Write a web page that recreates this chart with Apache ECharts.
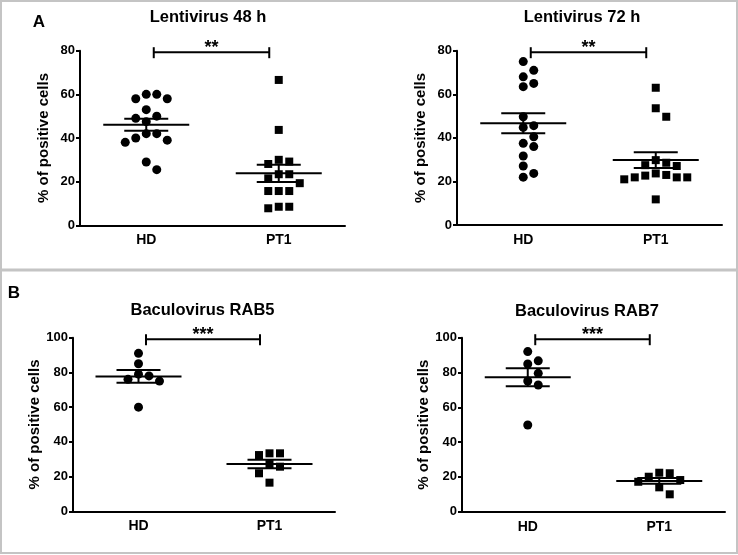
<!DOCTYPE html>
<html>
<head>
<meta charset="utf-8">
<script src="https://cdn.jsdelivr.net/npm/echarts@6/dist/echarts.min.js"></script>
<style>html,body{margin:0;padding:0;background:#fff;}#c{width:738px;height:555px;}</style>
</head>
<body>
<div id="c"></div>
<script>
// ---------------- data ----------------
const categories = ['HD', 'PT1'];
const titles = ['Lentivirus 48 h', 'Lentivirus 72 h', 'Baculovirus RAB5', 'Baculovirus RAB7'];
const yAxisName = '% of positive cells';
const yMaxA = 80, yMaxB = 100, yInterval = 20;
const sigLabels = ['**', '**', '***', '***'];
const panelLetters = ['A', 'B'];

const lenti48HD  = [60, 60, 58, 58, 53, 50, 49, 47.5, 42, 42, 40, 39, 38, 29, 25.5];
const lenti48PT1 = [66.6, 43.7, 30, 29.2, 28.1, 23.4, 23.4, 21.5, 19.3, 15.7, 15.7, 15.7, 8.5, 8.5, 7.8];
const lenti72HD  = [75, 71, 68, 65, 63.5, 49.7, 45.6, 44.8, 40.5, 37.5, 36, 31.7, 27.1, 23.7, 22];
const lenti72PT1 = [63, 53.6, 49.7, 29.8, 28.6, 27.5, 27.1, 23.7, 23, 22.7, 21.9, 21.9, 21.9, 21, 11.8];
const rab5HD  = [91, 85, 79, 78, 76, 75, 60];
const rab5PT1 = [33.4, 33.4, 32.4, 27.2, 25.7, 21.9, 16.5];
const rab7HD  = [92, 86.7, 84.9, 79.5, 75.1, 72.8, 49.8];
const rab7PT1 = [22.4, 22.1, 20.1, 18.2, 17.2, 14, 10];

// ---------------- layout ----------------
const FONT = '"Liberation Sans", Arial, sans-serif';
const panels = [
  { hd: lenti48HD, pt: lenti48PT1, max: yMaxA, grid: { left: 80, top: 50.7, width: 265, height: 174.6 }, title: [208, 17] },
  { hd: lenti72HD, pt: lenti72PT1, max: yMaxA, grid: { left: 457, top: 50.7, width: 265, height: 174.4 }, title: [582, 17] },
  { hd: rab5HD, pt: rab5PT1, max: yMaxB, grid: { left: 73, top: 337.7, width: 262, height: 173.6 }, title: [202.5, 310] },
  { hd: rab7HD, pt: rab7PT1, max: yMaxB, grid: { left: 462, top: 337.7, width: 263, height: 174 }, title: [587, 311.5] }
];

function mean(a) { return a.reduce((s, v) => s + v, 0) / a.length; }
function sem(a) {
  const m = mean(a);
  const v = a.reduce((s, x) => s + (x - m) * (x - m), 0) / (a.length - 1);
  return Math.sqrt(v) / Math.sqrt(a.length);
}
// beeswarm layout: pixel x offsets computed from values so dots don't overlap
function swarm(values, pxPerUnit, step, minDist) {
  const order = values.map((v, i) => i).sort((a, b) => values[b] - values[a]);
  const placed = [];
  const offs = new Array(values.length).fill(0);
  order.forEach(i => {
    const y = values[i] * pxPerUnit;
    for (let n = 0; n < 40; n++) {
      const k = n === 0 ? 0 : (n % 2 === 1 ? (n + 1) / 2 : -n / 2);
      const x = k * step;
      const ok = placed.every(p => (p[0] - x) ** 2 + (p[1] - y) ** 2 >= minDist * minDist);
      if (ok) { placed.push([x, y]); offs[i] = x; break; }
    }
  });
  return offs;
}

const chart = echarts.init(document.getElementById('c'), null, { renderer: 'canvas' });

const grids = [], xAxes = [], yAxes = [], series = [], graphics = [];
panels.forEach((p, gi) => {
  grids.push(Object.assign({ containLabel: false }, p.grid));
  xAxes.push({
    gridIndex: gi, type: 'category', data: categories, boundaryGap: true,
    axisLine: { lineStyle: { color: '#000', width: 2 } },
    axisTick: { alignWithLabel: true, length: 4, lineStyle: { color: '#000', width: 2 } },
    axisLabel: { color: '#000', fontWeight: 'bold', fontSize: 14, margin: 8, fontFamily: FONT },
    splitLine: { show: false }
  });
  yAxes.push({
    gridIndex: gi, type: 'value', min: 0, max: p.max, interval: yInterval,
    axisLine: { show: true, lineStyle: { color: '#000', width: 2 } },
    axisTick: { show: true, length: 4, lineStyle: { color: '#000', width: 2 } },
    axisLabel: { color: '#000', fontWeight: 'bold', fontSize: 13, margin: 5, fontFamily: FONT },
    splitLine: { show: false },
    name: yAxisName, nameLocation: 'middle', nameGap: 29,
    nameTextStyle: { color: '#000', fontWeight: 'bold', fontSize: 15, fontFamily: FONT }
  });
  const ppu = p.grid.height / p.max;
  [[p.hd, 0, 'circle', 9], [p.pt, 1, 'rect', 8]].forEach(([vals, ci, sym, size]) => {
    const offs = swarm(vals, ppu, 10.5, 9.6);
    series.push({
      type: 'scatter', xAxisIndex: gi, yAxisIndex: gi, symbol: sym, symbolSize: size,
      itemStyle: { color: '#000', opacity: 1 }, z: 3,
      emphasis: { disabled: true },
      data: vals.map((v, i) => ({ value: [ci, v], symbolOffset: [offs[i], 0] }))
    });
  });
  // mean +/- SEM
  series.push({
    type: 'custom', xAxisIndex: gi, yAxisIndex: gi, z: 4,
    data: [[0, mean(p.hd), sem(p.hd)], [1, mean(p.pt), sem(p.pt)]],
    renderItem: function (params, api) {
      const c = api.value(0), m = api.value(1), s = api.value(2);
      const pm = api.coord([c, m]), pu = api.coord([c, m + s]), pl = api.coord([c, m - s]);
      const st = { stroke: '#000', lineWidth: 2 };
      return { type: 'group', children: [
        { type: 'line', shape: { x1: pm[0] - 43, y1: pm[1], x2: pm[0] + 43, y2: pm[1] }, style: st },
        { type: 'line', shape: { x1: pu[0] - 22, y1: pu[1], x2: pu[0] + 22, y2: pu[1] }, style: st },
        { type: 'line', shape: { x1: pl[0] - 22, y1: pl[1], x2: pl[0] + 22, y2: pl[1] }, style: st },
        { type: 'line', shape: { x1: pu[0], y1: pu[1], x2: pl[0], y2: pl[1] }, style: st }
      ]};
    }
  });
  // significance bracket
  series.push({
    type: 'custom', xAxisIndex: gi, yAxisIndex: gi, z: 4,
    data: [[0, 1, p.max]],
    renderItem: function (params, api) {
      const a = api.coord([api.value(0), api.value(2)]);
      const b = api.coord([api.value(1), api.value(2)]);
      const x1 = a[0] + 7.5, x2 = b[0] - 9.5, y = a[1] + 1.5;
      const st = { stroke: '#000', lineWidth: 2 };
      return { type: 'group', children: [
        { type: 'line', shape: { x1: x1, y1: y, x2: x2, y2: y }, style: st },
        { type: 'line', shape: { x1: x1, y1: y - 5, x2: x1, y2: y + 6 }, style: st },
        { type: 'line', shape: { x1: x2, y1: y - 5, x2: x2, y2: y + 6 }, style: st },
        { type: 'text', style: { x: (x1 + x2) / 2, y: y - 4, text: sigLabels[gi], align: 'center', verticalAlign: 'middle',
          font: 'bold 18px ' + FONT, fill: '#000' } }
      ]};
    }
  });
  graphics.push({
    type: 'text', x: p.title[0], y: p.title[1],
    style: { text: titles[gi], align: 'center', verticalAlign: 'middle', font: 'bold 16.5px ' + FONT, fill: '#000' }
  });
});

graphics.push(
  { type: 'rect', shape: { x: 1, y: 1, width: 736, height: 552 }, style: { fill: 'none', stroke: '#c4c4c4', lineWidth: 2 }, z: -1 },
  { type: 'line', shape: { x1: 1, y1: 270, x2: 737, y2: 270 }, style: { stroke: '#c4c4c4', lineWidth: 3 }, z: -1 },
  { type: 'text', x: 39, y: 22, style: { text: panelLetters[0], align: 'center', verticalAlign: 'middle', font: 'bold 17px ' + FONT, fill: '#000' } },
  { type: 'text', x: 14, y: 293, style: { text: panelLetters[1], align: 'center', verticalAlign: 'middle', font: 'bold 17px ' + FONT, fill: '#000' } }
);

chart.setOption({
  animation: false,
  backgroundColor: '#fff',
  grid: grids, xAxis: xAxes, yAxis: yAxes, series: series, graphic: graphics
});
</script>
</body>
</html>
